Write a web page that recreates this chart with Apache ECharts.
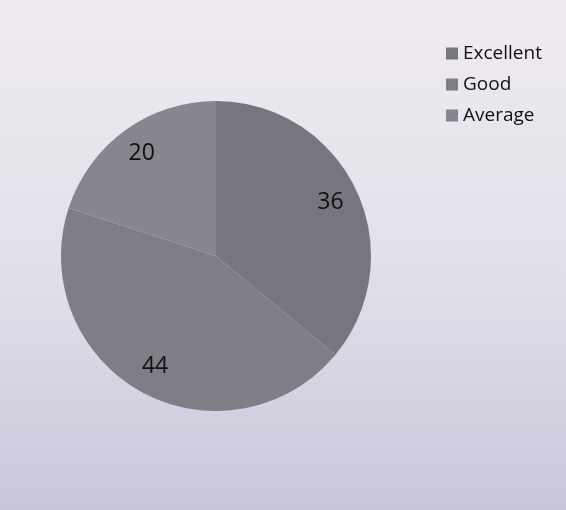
<!DOCTYPE html>
<html>
<head>
<meta charset="utf-8">
<script src="https://cdn.jsdelivr.net/npm/echarts@6/dist/echarts.min.js"></script>
<style>
  html, body { margin: 0; padding: 0; }
  #chart { width: 566px; height: 510px; }
</style>
</head>
<body>
<div id="chart"></div>
<script>
// Rating shares
const categories = ['Excellent', 'Good', 'Average'];
const values = [36, 44, 20];
const sliceColors = ['#77767f', '#7f7e87', '#87868e'];

const pieData = categories.map((name, i) => ({ name: name, value: values[i] }));

const chart = echarts.init(document.getElementById('chart'), null, { renderer: 'canvas' });

chart.setOption({
  animation: false,
  backgroundColor: {
    type: 'linear', x: 0, y: 0, x2: 0, y2: 1,
    colorStops: [
      { offset: 0, color: '#efebf0' },
      { offset: 0.5, color: '#e4e0ea' },
      { offset: 1, color: '#cac6da' }
    ]
  },
  color: sliceColors,
  legend: {
    orient: 'vertical',
    left: 441,
    top: 39,
    icon: 'rect',
    itemWidth: 12,
    itemHeight: 12,
    itemGap: 12,
    data: categories,
    textStyle: { fontFamily: 'Open Sans', fontSize: 19, color: '#111' }
  },
  series: [
    {
      // filled slices
      type: 'pie',
      center: [216, 256],
      radius: [0, 155],
      startAngle: 90,
      clockwise: true,
      silent: true,
      label: { show: false },
      labelLine: { show: false },
      itemStyle: { borderWidth: 0 },
      data: pieData
    },
    {
      // value labels, placed on a transparent ring
      type: 'pie',
      center: [216, 256],
      radius: [92, 155],
      startAngle: 90,
      clockwise: true,
      silent: true,
      legendHoverLink: false,
      itemStyle: { color: 'rgba(0,0,0,0)', borderWidth: 0 },
      label: {
        show: true,
        position: 'inside',
        formatter: '{c}',
        fontFamily: 'Open Sans',
        fontSize: 23,
        color: '#111'
      },
      labelLine: { show: false },
      data: pieData
    }
  ]
});
</script>
</body>
</html>
